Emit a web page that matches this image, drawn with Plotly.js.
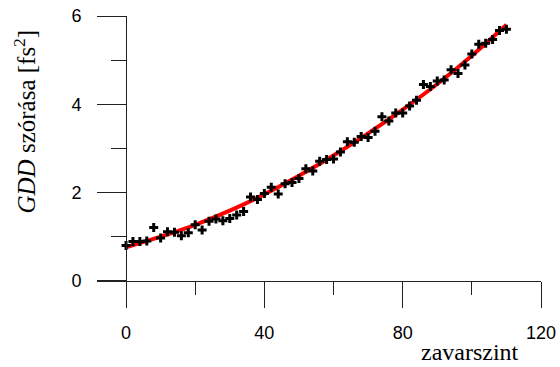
<!DOCTYPE html>
<html>
<head>
<meta charset="utf-8">
<script src="https://cdn.plot.ly/plotly-3.0.1.min.js"></script>
<style>html,body{margin:0;padding:0;background:#fff;}#chart{width:560px;height:367px;}</style>
</head>
<body>
<div id="chart"></div>
<script>
// Measured data (zavarszint vs GDD szórása)
var noiseLevel = [0,2,4,6,8,10,12,14,16,18,20,22,24,26,28,30,32,34,36,38,40,42,44,46,48,50,52,54,56,58,60,62,64,66,68,70,72,74,76,78,80,82,84,86,88,90,92,94,96,98,100,102,104,106,108,110];
var gddStd = [0.80,0.89,0.89,0.90,1.21,0.97,1.11,1.10,1.02,1.09,1.27,1.15,1.35,1.40,1.36,1.41,1.49,1.57,1.90,1.84,1.98,2.12,1.97,2.20,2.23,2.32,2.54,2.49,2.71,2.75,2.76,2.92,3.15,3.14,3.27,3.25,3.39,3.72,3.62,3.80,3.80,3.96,4.09,4.45,4.40,4.53,4.55,4.78,4.70,4.89,5.14,5.36,5.38,5.47,5.67,5.70];
// Fitted curve
var fitX = [0,10,20,30,40,50,60,70,80,90,100,110];
var fitY = [0.76,1.00,1.27,1.59,1.96,2.38,2.84,3.34,3.88,4.46,5.10,5.80];
// Axis ticks
var xTicks = [0,40,80,120];
var xMinorTicks = [20,60,100];
var yTicks = [0,2,4,6];
var yMinorTicks = [1,3,5];

var xMin = -8.4, xMax = 120, yMin = -0.57, yMax = 6;

var traces = [
  {x: fitX, y: fitY, type: 'scatter', mode: 'lines',
   line: {color: '#ff0000', width: 4, shape: 'spline', smoothing: 1}, hoverinfo: 'skip'},
  {x: noiseLevel, y: gddStd, type: 'scatter', mode: 'markers',
   marker: {symbol: 'cross', size: 7.5, color: '#000000', line: {width: 0}}}
];

var tickFont = {family: 'Liberation Sans, Arial, sans-serif', size: 18, color: '#000'};
var layout = {
  width: 560, height: 367,
  margin: {l: 97, r: 19, t: 16, b: 61},
  paper_bgcolor: '#fff', plot_bgcolor: '#fff',
  showlegend: false,
  xaxis: {
    range: [xMin, xMax], anchor: 'free', position: (0 - yMin) / (yMax - yMin),
    showline: true, linecolor: '#222', linewidth: 1,
    showgrid: false, zeroline: false,
    tickmode: 'array', tickvals: xTicks, ticktext: xTicks.map(String),
    ticks: 'outside', ticklen: 26, tickwidth: 1, tickcolor: '#222',
    ticklabelstandoff: 10,
    minor: {tickmode: 'array', tickvals: xMinorTicks, ticks: 'outside', ticklen: 13, tickwidth: 1, tickcolor: '#222', showgrid: false},
    tickfont: tickFont
  },
  yaxis: {
    range: [yMin, yMax], anchor: 'free', position: (0 - xMin) / (xMax - xMin),
    showline: true, linecolor: '#222', linewidth: 1,
    showgrid: false, zeroline: false,
    tickmode: 'array', tickvals: yTicks, ticktext: yTicks.map(String),
    ticks: 'outside', ticklen: 29, tickwidth: 1, tickcolor: '#222',
    ticklabelstandoff: 12,
    minor: {tickmode: 'array', tickvals: yMinorTicks, ticks: 'outside', ticklen: 15, tickwidth: 1, tickcolor: '#222', showgrid: false},
    tickfont: tickFont
  },
  annotations: [
    {text: '<i>GDD</i> szórása [fs<sup>2</sup>]', xref: 'paper', yref: 'paper',
     x: (24 - 97) / 444, y: 1 - (121.5 - 16) / 290, xanchor: 'center', yanchor: 'middle',
     textangle: -90, showarrow: false,
     font: {family: 'Liberation Serif, Times New Roman, serif', size: 25, color: '#000'}},
    {text: 'zavarszint', xref: 'paper', yref: 'paper',
     x: (469.5 - 97) / 444, y: 1 - (367 - 16) / 290, xanchor: 'center', yanchor: 'bottom',
     showarrow: false,
     font: {family: 'Liberation Serif, Times New Roman, serif', size: 24, color: '#000'}}
  ]
};

Plotly.newPlot('chart', traces, layout, {staticPlot: true, displayModeBar: false});
</script>
</body>
</html>
